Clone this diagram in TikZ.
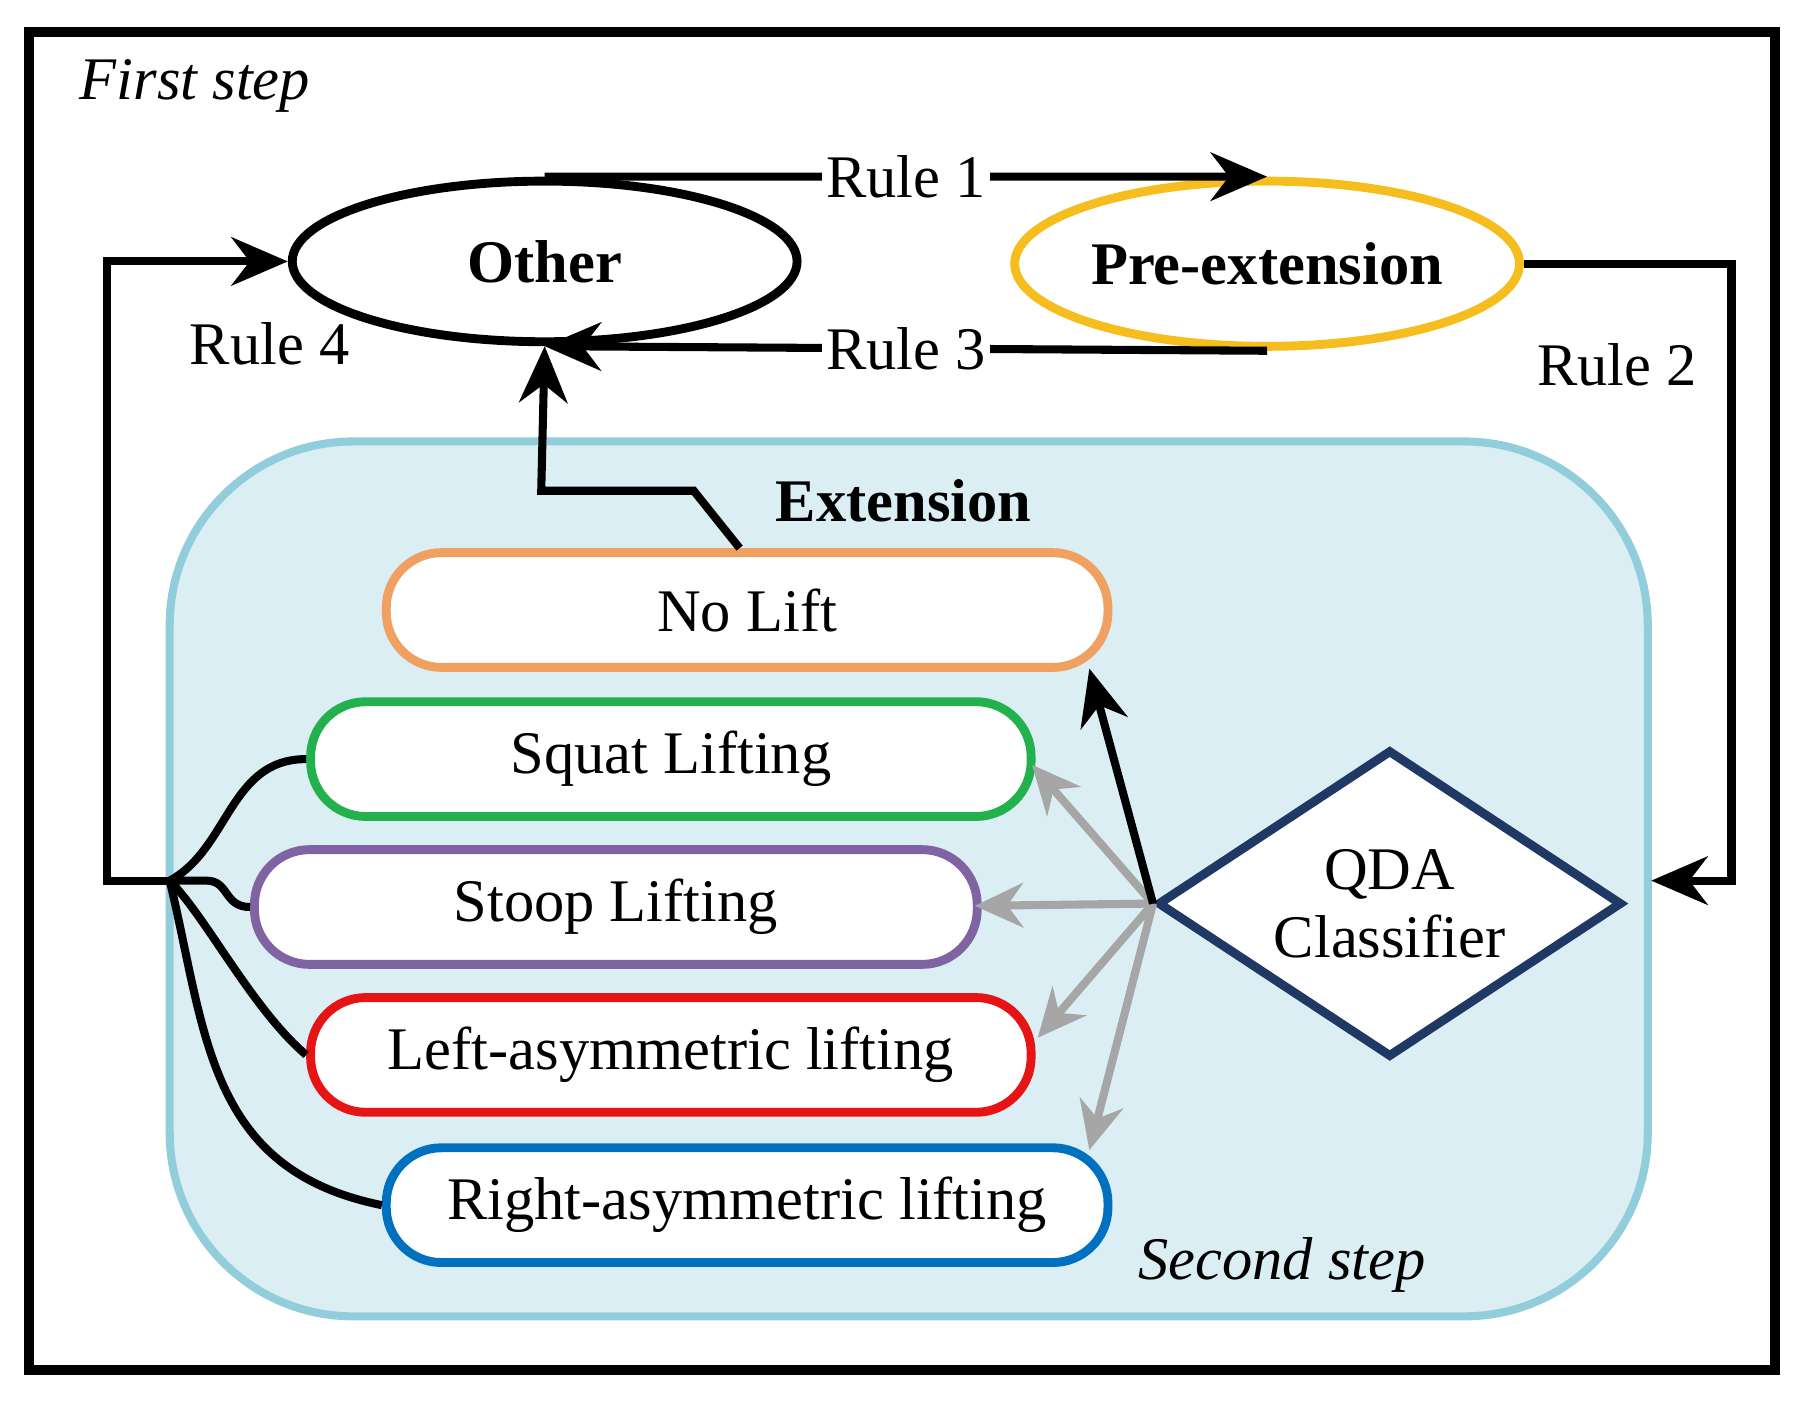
\documentclass[tikz,border=0pt]{standalone}
\usepackage{fontspec}
\setmainfont{Liberation Serif}
\usetikzlibrary{shapes.geometric,arrows.meta}
\definecolor{extfill}{RGB}{218,238,243}
\definecolor{extdraw}{RGB}{146,205,220}
\begin{document}
\begin{tikzpicture}[x=0.01cm,y=-0.01cm,
  lbl/.style={font=\fontsize{15}{17}\selectfont},
  pill/.style={draw,line width=2.2pt,rounded corners=0.48cm,fill=white,minimum height=1cm,font=\fontsize{15}{17}\selectfont,anchor=west},
  blk/.style={line width=2pt,-{Stealth[length=14pt,width=12pt]}},
  gry/.style={line width=2pt,draw=gray!70,-{Stealth[length=12pt,width=11pt]}}]
\useasboundingbox (0,0) rectangle (1568,1225);
\draw[line width=2.5pt] (25,28) rectangle (1548,1195);
\node[lbl,font=\fontsize{15}{17}\selectfont\itshape] (fs) at (170,75) {First step};
\draw[line width=2pt,draw=extdraw,fill=extfill,rounded corners=1.6cm] (148,385) rectangle (1437,1148);
\node[font=\fontsize{15}{17}\selectfont\bfseries] (ext) at (788,437) {Extension};
\node[font=\fontsize{15}{17}\selectfont\itshape] (ss) at (1118,1103) {Second step};
\node[draw,ellipse,line width=2.2pt,minimum width=4.4cm,minimum height=1.4cm,font=\fontsize{15}{17}\selectfont\bfseries] (other) at (475,228) {Other};
\node[draw={rgb,255:red,245;green,190;blue,30},ellipse,line width=2.2pt,minimum width=4.4cm,minimum height=1.44cm,inner sep=0pt,font=\fontsize{15}{17}\selectfont\bfseries] (pre) at (1105,230) {Pre-extension};
\node[pill,draw={rgb,255:red,240;green,160;blue,96},minimum width=6.29cm] (nl) at (333,532) {No Lift};
\node[pill,draw={rgb,255:red,34;green,177;blue,76},minimum width=6.28cm] (sq) at (267,662) {Squat Lifting};
\node[pill,draw={rgb,255:red,128;green,100;blue,162},minimum width=6.3cm] (st) at (218,791) {Stoop Lifting};
\node[pill,draw={rgb,255:red,230;green,20;blue,20},minimum width=6.28cm] (la) at (267,920) {Left-asymmetric lifting};
\node[pill,draw={rgb,255:red,0;green,112;blue,192},minimum width=6.29cm] (ra) at (333,1051) {Right-asymmetric lifting};
\node[draw={rgb,255:red,31;green,56;blue,100},diamond,aspect=1.5,line width=2.2pt,fill=white,minimum width=4.05cm,minimum height=2.68cm,align=center,inner sep=0pt,font=\fontsize{15}{17}\selectfont] (qda) at (1212,788) {QDA\\Classifier};
% Rules
\draw[blk] (other.north) -- node[fill=white,inner sep=1pt,lbl]{Rule 1} (pre.north);
\draw[blk] (pre.south) -- node[fill=white,inner sep=1pt,lbl]{Rule 3} (other.south);
\coordinate (r2a) at (1510,230);
\coordinate (r2b) at (1510,768);
\coordinate (r2c) at (1440,768);
\draw[blk] (pre.east) -- (r2a) -- (r2b) -- (r2c);
\node[lbl] (r2) at (1410,318) {Rule 2};
\coordinate (j) at (148,768);
\coordinate (r4a) at (93,768);
\coordinate (r4b) at (93,228);
\draw[blk] (j) -- (r4a) -- (r4b) -- (other.west);
\node[lbl] (r4) at (235,300) {Rule 4};
\coordinate (n0) at (645,478);
\coordinate (n1) at (605,428);
\coordinate (n2) at (472,428);
\draw[blk] (n0) -- (n1) -- (n2) -- (other.south);
% junction curves
\draw[line width=2pt] (j) .. controls (200,740) and (200,662) .. (sq.west);
\draw[line width=2pt] (j) -- (180,768) .. controls (200,768) and (195,791) .. (st.west);
\draw[line width=2pt] (j) .. controls (180,800) and (220,880) .. (la.west);
\draw[line width=2pt] (j) .. controls (180,900) and (180,1020) .. (ra.west);
% classifier arrows
\coordinate (q) at (qda.west);
\coordinate (g1) at (900,667);
\coordinate (g2) at (850,790);
\coordinate (g3) at (905,905);
\coordinate (g4) at (950,1003);
\coordinate (b1) at (950,583);
\draw[gry] (q) -- (g1);
\draw[gry] (q) -- (g2);
\draw[gry] (q) -- (g3);
\draw[gry] (q) -- (g4);
\draw[blk] (q) -- (b1);
\end{tikzpicture}
\end{document}
